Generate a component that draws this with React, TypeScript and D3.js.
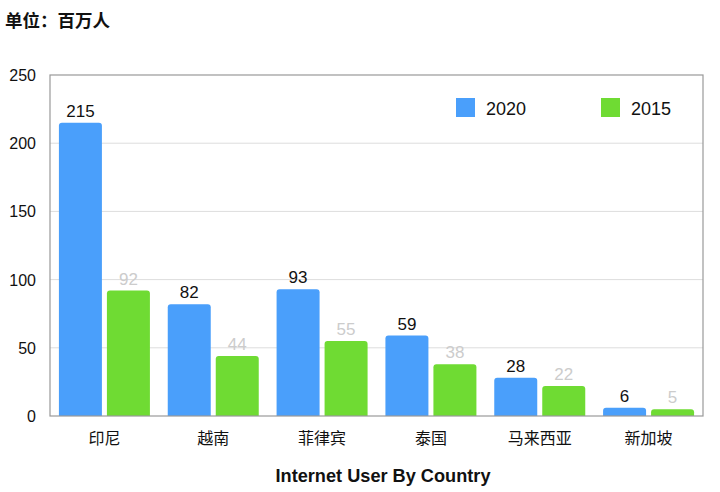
import React from "react";
import * as d3 from "d3";

const categories = ["印尼", "越南", "菲律宾", "泰国", "马来西亚", "新加坡"];
const values2020 = [215, 82, 93, 59, 28, 6];
const values2015 = [92, 44, 55, 38, 22, 5];
const yTicks = [0, 50, 100, 150, 200, 250];
const seriesNames = ["2020", "2015"];

const W = 720, H = 492;
const left = 50, right = 703, top = 75, bottom = 416;
const BLUE = "#4a9ffb";
const GREEN = "#6fdb33";
const FONT = "'Liberation Sans', Arial, Helvetica, sans-serif";
const CJK = "'Noto Sans CJK SC', sans-serif";

function topRounded(x: number, y: number, w: number, h: number, r: number) {
  const rr = Math.min(r, h, w / 2);
  const p = d3.path();
  p.moveTo(x, y + h);
  p.lineTo(x, y + rr);
  p.quadraticCurveTo(x, y, x + rr, y);
  p.lineTo(x + w - rr, y);
  p.quadraticCurveTo(x + w, y, x + w, y + rr);
  p.lineTo(x + w, y + h);
  p.closePath();
  return p.toString();
}

export default function App() {
  const x = d3.scaleBand<string>().domain(categories).range([left, right]).padding(0);
  const y = d3.scaleLinear().domain([0, 250]).range([bottom, top]);
  const bw = 43;
  const gap = 5;
  return (
    <svg width={W} height={H} style={{ position: "absolute", left: 0, top: 0, background: "#fff" }}>
      <text x={5} y={27} fontFamily={CJK} fontSize={17.5} fontWeight="bold" fill="#111">单位：百万人</text>
      {yTicks.filter(t => t > 0 && t < 250).map(t => (
        <line key={t} x1={left} x2={right} y1={y(t)} y2={y(t)} stroke="#dddddd" strokeWidth={1} />
      ))}
      {yTicks.map(t => (
        <text key={"l" + t} x={36} y={y(t) + 6} textAnchor="end" fontFamily={FONT} fontSize={16} fill="#111">{t}</text>
      ))}
      {categories.map((c, i) => {
        const cx = (x(c) as number) + x.bandwidth() / 2;
        const x1 = cx - gap / 2 - bw;
        const x2 = cx + gap / 2;
        const v1 = values2020[i], v2 = values2015[i];
        return (
          <g key={c}>
            <path d={topRounded(x1, y(v1), bw, bottom - y(v1), 3)} fill={BLUE} />
            <path d={topRounded(x2, y(v2), bw, bottom - y(v2), 3)} fill={GREEN} />
            <text x={x1 + bw / 2} y={y(v1) - 6} textAnchor="middle" fontFamily={FONT} fontSize={17} fill="#111">{v1}</text>
            <text x={x2 + bw / 2} y={y(v2) - 6} textAnchor="middle" fontFamily={FONT} fontSize={17} fill="#cccccc">{v2}</text>
            <text x={cx} y={444} textAnchor="middle" fontFamily={CJK} fontSize={16} fill="#111">{c}</text>
          </g>
        );
      })}
      <rect x={left} y={top} width={right - left} height={bottom - top} fill="none" stroke="#999" strokeWidth={1.2} />
      {seriesNames.map((s, i) => (
        <g key={s}>
          <rect x={456 + i * 145} y={98} width={19} height={19} fill={i === 0 ? BLUE : GREEN} />
          <text x={486 + i * 145} y={115} fontFamily={FONT} fontSize={18} fill="#111">{s}</text>
        </g>
      ))}
      <text x={383} y={482} textAnchor="middle" fontFamily={FONT} fontSize={18} fontWeight="bold" fill="#111" textLength={215} lengthAdjust="spacingAndGlyphs">Internet User By Country</text>
    </svg>
  );
}
